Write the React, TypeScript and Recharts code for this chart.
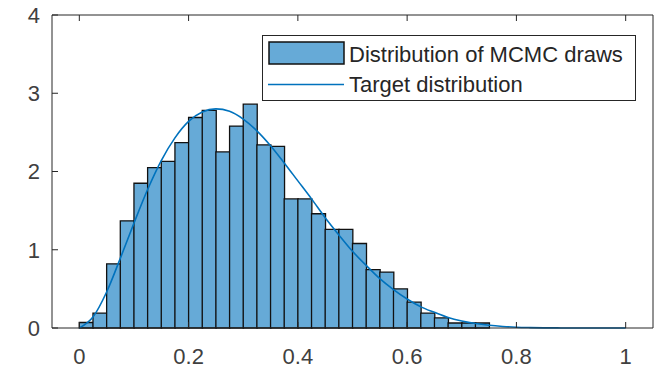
import { ComposedChart, Bar, Line, XAxis, YAxis, Legend } from 'recharts'

// histogram bins (width 0.025), centres and density heights
const binCenters = [
  0.0125, 0.0375, 0.0625, 0.0875, 0.1125, 0.1375, 0.1625, 0.1875, 0.2125, 0.2375,
  0.2625, 0.2875, 0.3125, 0.3375, 0.3625, 0.3875, 0.4125, 0.4375, 0.4625, 0.4875,
  0.5125, 0.5375, 0.5625, 0.5875, 0.6125, 0.6375, 0.6625, 0.6875, 0.7125, 0.7375,
]
const binHeights = [
  0.07, 0.19, 0.82, 1.37, 1.85, 2.05, 2.13, 2.37, 2.69, 2.78,
  2.25, 2.58, 2.86, 2.34, 2.32, 1.65, 1.65, 1.46, 1.26, 1.26,
  1.08, 0.745, 0.715, 0.5, 0.33, 0.19, 0.13, 0.064, 0.064, 0.064,
]

// target density curve
const curveX = [
  0, 0.025, 0.05, 0.075, 0.1, 0.125, 0.15, 0.175, 0.2, 0.225, 0.25, 0.275, 0.3, 0.325,
  0.35, 0.375, 0.4, 0.425, 0.45, 0.475, 0.5, 0.525, 0.55, 0.575, 0.6, 0.625, 0.65,
  0.675, 0.7, 0.725, 0.75, 0.775, 0.8, 0.825, 0.85, 0.875, 0.9, 0.95, 1,
]
const curveY = [
  0, 0.14, 0.46, 0.89, 1.34, 1.77, 2.14, 2.43, 2.64, 2.76, 2.8, 2.77, 2.67, 2.52,
  2.33, 2.11, 1.88, 1.65, 1.41, 1.19, 0.98, 0.8, 0.63, 0.49, 0.37, 0.27, 0.2,
  0.135, 0.09, 0.057, 0.035, 0.02, 0.01, 0.005, 0.002, 0.001, 0, 0, 0,
]

const xTicks = [0, 0.2, 0.4, 0.6, 0.8, 1]
const yTicks = [0, 1, 2, 3, 4]
const histName = 'Distribution of MCMC draws'
const lineName = 'Target distribution'

const histData = binCenters.map((x, i) => ({ x, density: binHeights[i] }))
const lineData = curveX.map((x, i) => ({ x, pdf: curveY[i] }))

const FONT = '"Liberation Sans", Arial, sans-serif'
const AXIS = '#262626'
const TICK_TEXT = '#404040'
const BAR_FILL = '#66aad7'
const LINE = '#0072bd'
const TICK_LEN = 6

// matlab style: tick marks point into the plot box
function BottomTick(props: any) {
  const { x, y, payload } = props
  return (
    <g>
      <line x1={x} x2={x} y1={y} y2={y - TICK_LEN} stroke={AXIS} />
      <text x={x} y={y + 20} dy="0.71em" textAnchor="middle" fill={TICK_TEXT} fontSize={22} fontFamily={FONT}>
        {payload.value}
      </text>
    </g>
  )
}

function LeftTick(props: any) {
  const { x, y, payload } = props
  return (
    <g>
      <line x1={x} x2={x + TICK_LEN} y1={y} y2={y} stroke={AXIS} />
      <text x={x - 12} y={y} dy="0.355em" textAnchor="end" fill={TICK_TEXT} fontSize={22} fontFamily={FONT}>
        {payload.value}
      </text>
    </g>
  )
}

function TopTick(props: any) {
  const { x, y } = props
  return <line x1={x} x2={x} y1={y} y2={y + TICK_LEN} stroke={AXIS} />
}

function RightTick(props: any) {
  const { x, y } = props
  return <line x1={x} x2={x - TICK_LEN} y1={y} y2={y} stroke={AXIS} />
}

function LegendBox() {
  return (
    <div
      style={{
        width: 372,
        height: 64,
        border: `1px solid ${AXIS}`,
        background: '#fff',
        position: 'relative',
        fontFamily: FONT,
        fontSize: 22,
        color: AXIS,
        lineHeight: '22px',
        whiteSpace: 'nowrap',
      }}
    >
      <svg width={90} height={64} style={{ position: 'absolute', left: 0, top: 0 }}>
        <rect x={6} y={6} width={75} height={22} fill={BAR_FILL} stroke="#111" strokeWidth={1.5} />
        <line x1={5} x2={81} y1={48.5} y2={48.5} stroke={LINE} strokeWidth={1.5} />
      </svg>
      <span style={{ position: 'absolute', left: 86, top: 8 }}>{histName}</span>
      <span style={{ position: 'absolute', left: 86, top: 38 }}>{lineName}</span>
    </div>
  )
}

export default function App() {
  return (
    <div style={{ width: 664, height: 368, background: '#fff' }}>
      <style>{'body{margin:0}'}</style>
      <ComposedChart
        width={664}
        height={368}
        data={histData}
        margin={{ top: 14, right: 10, bottom: 0, left: 0 }}
        barCategoryGap={0}
        barGap={0}
      >
        <XAxis
          xAxisId="bins"
          dataKey="x"
          type="number"
          domain={[-0.05, 1.05]}
          ticks={xTicks}
          height={40}
          stroke={AXIS}
          tickLine={false}
          tickSize={0}
          tickMargin={0}
          tick={BottomTick}
        />
        <XAxis
          xAxisId="top"
          dataKey="x"
          type="number"
          orientation="top"
          domain={[-0.05, 1.05]}
          ticks={xTicks}
          height={1}
          stroke={AXIS}
          tickLine={false}
          tickSize={0}
          tickMargin={0}
          tick={TopTick}
        />
        <YAxis
          yAxisId="left"
          type="number"
          domain={[0, 4]}
          ticks={yTicks}
          width={52}
          stroke={AXIS}
          tickLine={false}
          tickSize={0}
          tickMargin={0}
          tick={LeftTick}
        />
        <YAxis
          yAxisId="right"
          type="number"
          orientation="right"
          domain={[0, 4]}
          ticks={yTicks}
          width={1}
          stroke={AXIS}
          tickLine={false}
          tickSize={0}
          tickMargin={0}
          tick={RightTick}
        />
        <Legend
          layout="horizontal"
          verticalAlign="middle"
          align="center"
          wrapperStyle={{ position: 'absolute', left: 262, top: 35, width: 374 }}
          content={() => <LegendBox />}
        />
        <Bar
          xAxisId="bins"
          yAxisId="left"
          dataKey="density"
          name={histName}
          fill={BAR_FILL}
          stroke="#111"
          strokeWidth={1.3}
          isAnimationActive={false}
        />
        <Line
          xAxisId="top"
          yAxisId="left"
          data={lineData}
          dataKey="pdf"
          name={lineName}
          type="monotone"
          stroke={LINE}
          strokeWidth={1.6}
          dot={false}
          activeDot={false}
          isAnimationActive={false}
        />
      </ComposedChart>
    </div>
  )
}
